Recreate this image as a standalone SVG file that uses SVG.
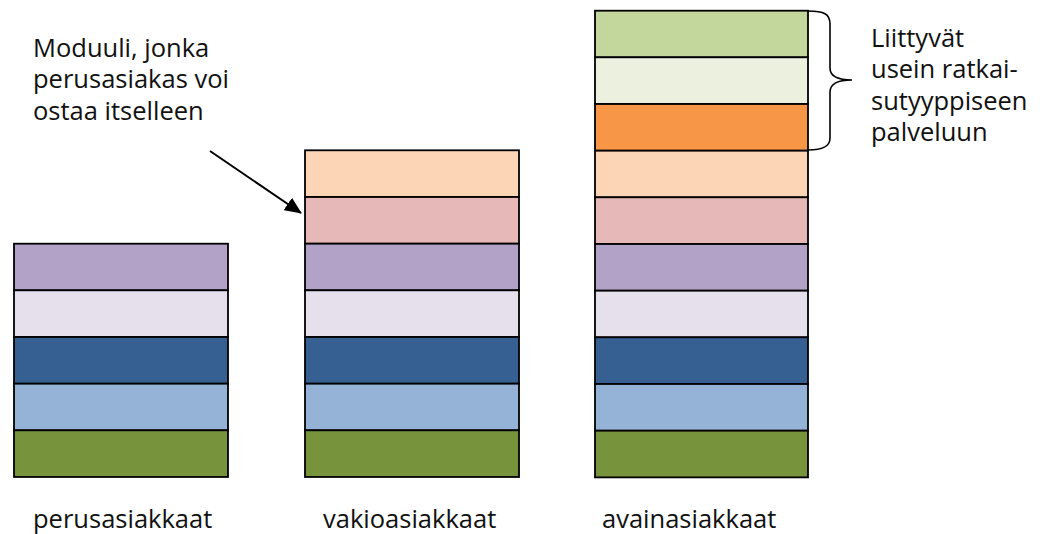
<svg xmlns="http://www.w3.org/2000/svg" width="1040" height="534" viewBox="0 0 1040 534">
  <style>
    .blk { stroke: #000; stroke-width: 1.8; }
    .lbl { font-family: "Open Sans", "Noto Sans", "DejaVu Sans", sans-serif; font-size: 25.5px; fill: #111; }
    .c1 { fill: #C3D69B; }
    .c2 { fill: #EBF1DE; }
    .c3 { fill: #F79646; }
    .c4 { fill: #FBD5B5; }
    .c5 { fill: #E6B9B8; }
    .c6 { fill: #B2A2C7; }
    .c7 { fill: #E5E0EC; }
    .c8 { fill: #366092; }
    .c9 { fill: #95B3D7; }
    .c10 { fill: #77933C; }
  </style>
  <defs>
    <marker id="arrowhead" markerWidth="8.5" markerHeight="7.5" refX="8" refY="3.75" orient="auto" markerUnits="strokeWidth">
      <path d="M0,0 L8.5,3.75 L0,7.5 Z" fill="#000"/>
    </marker>
  </defs>
  <rect width="1040" height="534" fill="#fff"/>

  <!-- basic customers: 5 modules -->
  <g id="col-perus">
    <rect class="blk c6" x="14" y="243.7" width="214" height="46.67"/>
    <rect class="blk c7" x="14" y="290.3" width="214" height="46.67"/>
    <rect class="blk c8" x="14" y="337" width="214" height="46.67"/>
    <rect class="blk c9" x="14" y="383.7" width="214" height="46.67"/>
    <rect class="blk c10" x="14" y="430.3" width="214" height="46.67"/>
  </g>

  <!-- regular customers: 7 modules -->
  <g id="col-vakio">
    <rect class="blk c4" x="305" y="150.3" width="214" height="46.67"/>
    <rect class="blk c5" x="305" y="197" width="214" height="46.67"/>
    <rect class="blk c6" x="305" y="243.7" width="214" height="46.67"/>
    <rect class="blk c7" x="305" y="290.3" width="214" height="46.67"/>
    <rect class="blk c8" x="305" y="337" width="214" height="46.67"/>
    <rect class="blk c9" x="305" y="383.7" width="214" height="46.67"/>
    <rect class="blk c10" x="305" y="430.3" width="214" height="46.67"/>
  </g>

  <!-- key customers: 10 modules -->
  <g id="col-avain">
    <rect class="blk c1" x="595" y="10.7" width="213" height="46.67"/>
    <rect class="blk c2" x="595" y="57.3" width="213" height="46.67"/>
    <rect class="blk c3" x="595" y="104" width="213" height="46.67"/>
    <rect class="blk c4" x="595" y="150.7" width="213" height="46.67"/>
    <rect class="blk c5" x="595" y="197.3" width="213" height="46.67"/>
    <rect class="blk c6" x="595" y="244" width="213" height="46.67"/>
    <rect class="blk c7" x="595" y="290.7" width="213" height="46.67"/>
    <rect class="blk c8" x="595" y="337.3" width="213" height="46.67"/>
    <rect class="blk c9" x="595" y="384" width="213" height="46.67"/>
    <rect class="blk c10" x="595" y="430.7" width="213" height="46.67"/>
  </g>

  <!-- connectors: pointer arrow and brace -->
  <g id="connectors" fill="none" stroke="#000">
    <line x1="210" y1="151" x2="301" y2="213" stroke-width="2" marker-end="url(#arrowhead)"/>
    <path d="M808,11 C824,11 830,14 830,24 L830,68 C830,76 838,80 852,80 C838,80 830,84 830,92 L830,138 C830,146 824,150 808,150" stroke-width="1.6"/>
  </g>

  <g id="note-module">
    <text class="lbl" x="33" y="56.5">Moduuli, jonka</text>
    <text class="lbl" x="33" y="88">perusasiakas voi</text>
    <text class="lbl" x="33" y="119.5">ostaa itselleen</text>
  </g>

  <g id="note-solution">
    <text class="lbl" x="871" y="46.7">Liittyvät</text>
    <text class="lbl" x="871" y="78">usein ratkai-</text>
    <text class="lbl" x="871" y="109.5">sutyyppiseen</text>
    <text class="lbl" x="871" y="141">palveluun</text>
  </g>

  <g id="captions">
    <text class="lbl" x="33" y="528">perusasiakkaat</text>
    <text class="lbl" x="323" y="528">vakioasiakkaat</text>
    <text class="lbl" x="602" y="528">avainasiakkaat</text>
  </g>
</svg>
